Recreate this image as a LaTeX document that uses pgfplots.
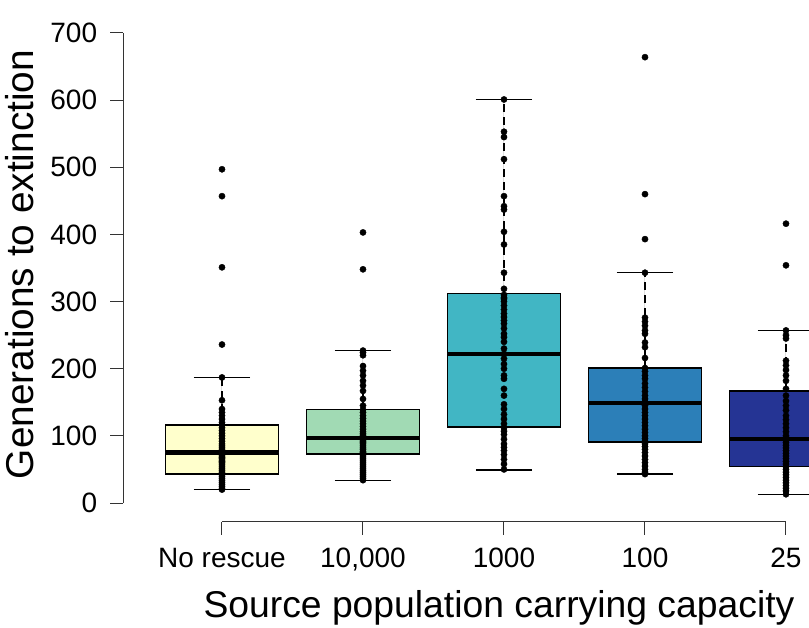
\documentclass[border=0pt]{standalone}
\usepackage{fontspec}
\setmainfont{Liberation Sans}
\usepackage{pgfplots}
\pgfplotsset{compat=1.18}
\usepgfplotslibrary{statistics}
\definecolor{c1}{HTML}{FFFFCC}
\definecolor{c2}{HTML}{A1DAB4}
\definecolor{c3}{HTML}{41B6C4}
\definecolor{c4}{HTML}{2C7FB8}
\definecolor{c5}{HTML}{253494}
\definecolor{axgray}{HTML}{333333}
\begin{document}
\begin{tikzpicture}
\begin{axis}[
  scale only axis,
  width=761.4pt, height=507.6pt,
  xmin=0.3, xmax=5.7, ymin=-28, ymax=728,
  clip=false,
  axis x line*=bottom, axis y line*=left,
  axis line style={draw=none},
  tick align=outside,
  major tick length=13pt,
  every tick/.style={draw=axgray, line width=1pt},
  xtick={1,2,3,4,5},
  xticklabels={No rescue,{10,000},1000,100,25},
  ytick={0,100,...,700},
  /pgf/number format/assume math mode=true,
  ticklabel style={font=\fontsize{28}{32}\selectfont, inner sep=0pt},
  yticklabel style={anchor=east, xshift=-13pt},
  xticklabel style={anchor=base, yshift=-33pt},
  xlabel={Source population carrying capacity},
  ylabel={Generations to extinction},
  xlabel style={font=\fontsize{37.3}{44}\selectfont, inner sep=0pt, at={(axis description cs:0.4934,-0.1895)}, anchor=base},
  ylabel style={font=\fontsize{38.8}{44}\selectfont, inner sep=0pt, at={(axis description cs:-0.1173,0.507)}, anchor=base},
  boxplot/draw direction=y,
  boxplot/box extend=0.8,
  boxplot/whisker extend=0.4,
  boxplot/every box/.style={draw=black, line width=1.5pt},
  boxplot/every median/.style={draw=black, line width=4.5pt},
  boxplot/draw/lower whisker/.code={%
    \draw[black, line width=1.3pt, dash pattern=on 8pt off 5pt]
      (boxplot cs:\pgfplotsboxplotvalue{lower quartile}) --
      (boxplot cs:\pgfplotsboxplotvalue{lower whisker});
    \draw[black, line width=1.3pt]
      (boxplot whisker cs:\pgfplotsboxplotvalue{lower whisker},0) --
      (boxplot whisker cs:\pgfplotsboxplotvalue{lower whisker},1);
  },
  boxplot/draw/upper whisker/.code={%
    \draw[black, line width=1.3pt, dash pattern=on 8pt off 5pt]
      (boxplot cs:\pgfplotsboxplotvalue{upper quartile}) --
      (boxplot cs:\pgfplotsboxplotvalue{upper whisker});
    \draw[black, line width=1.3pt]
      (boxplot whisker cs:\pgfplotsboxplotvalue{upper whisker},0) --
      (boxplot whisker cs:\pgfplotsboxplotvalue{upper whisker},1);
  },
  pts/.style={only marks, mark=*, mark size=3.1pt, black, mark options={fill=black, draw=black}},
]
% boxes
\addplot[fill=c1, boxplot prepared={draw position=1, lower whisker=20, lower quartile=43, median=75, upper quartile=116, upper whisker=187}] coordinates {};
\addplot[fill=c2, boxplot prepared={draw position=2, lower whisker=34, lower quartile=73, median=97, upper quartile=139, upper whisker=227}] coordinates {};
\addplot[fill=c3, boxplot prepared={draw position=3, lower whisker=49, lower quartile=113, median=222, upper quartile=312, upper whisker=601}] coordinates {};
\addplot[fill=c4, boxplot prepared={draw position=4, lower whisker=43, lower quartile=91, median=149, upper quartile=201, upper whisker=343}] coordinates {};
\addplot[fill=c5, boxplot prepared={draw position=5, lower whisker=13, lower quartile=54, median=95, upper quartile=167, upper whisker=257}] coordinates {};
% points
\addplot[pts] table[row sep=\\] {x y\\
1 497\\ 1 457\\ 1 351\\ 1 236\\ 1 187\\ 1 153\\ 1 140\\ 1 135\\ 1 130\\ 1 125\\ 1 120\\ 1 116\\ 1 112\\ 1 108\\ 1 104\\ 1 100\\ 1 96\\ 1 92\\ 1 88\\ 1 85\\ 1 82\\ 1 79\\ 1 77\\ 1 76\\ 1 75\\ 1 74\\ 1 72\\ 1 70\\ 1 68\\ 1 66\\ 1 64\\ 1 62\\ 1 60\\ 1 58\\ 1 55\\ 1 52\\ 1 49\\ 1 46\\ 1 43\\ 1 40\\ 1 37\\ 1 34\\ 1 31\\ 1 28\\ 1 25\\ 1 22\\ 1 20\\
};
\addplot[pts] table[row sep=\\] {x y\\
2 403\\ 2 348\\ 2 227\\ 2 224\\ 2 220\\ 2 204\\ 2 197\\ 2 190\\ 2 182\\ 2 175\\ 2 167\\ 2 155\\ 2 145\\ 2 139\\ 2 135\\ 2 130\\ 2 126\\ 2 122\\ 2 118\\ 2 114\\ 2 110\\ 2 106\\ 2 103\\ 2 100\\ 2 98\\ 2 96\\ 2 94\\ 2 92\\ 2 90\\ 2 88\\ 2 85\\ 2 82\\ 2 80\\ 2 77\\ 2 75\\ 2 73\\ 2 70\\ 2 67\\ 2 64\\ 2 61\\ 2 58\\ 2 55\\ 2 52\\ 2 49\\ 2 46\\ 2 43\\ 2 40\\ 2 37\\ 2 34\\
};
\addplot[pts] table[row sep=\\] {x y\\
3 601\\ 3 553\\ 3 545\\ 3 512\\ 3 457\\ 3 442\\ 3 437\\ 3 404\\ 3 385\\ 3 343\\ 3 319\\ 3 310\\ 3 306\\ 3 304\\ 3 300\\ 3 294\\ 3 288\\ 3 282\\ 3 277\\ 3 272\\ 3 267\\ 3 260\\ 3 252\\ 3 247\\ 3 240\\ 3 230\\ 3 222\\ 3 215\\ 3 207\\ 3 200\\ 3 190\\ 3 185\\ 3 170\\ 3 160\\ 3 147\\ 3 140\\ 3 132\\ 3 125\\ 3 118\\ 3 112\\ 3 107\\ 3 102\\ 3 95\\ 3 88\\ 3 83\\ 3 78\\ 3 72\\ 3 65\\ 3 58\\ 3 50\\
};
\addplot[pts] table[row sep=\\] {x y\\
4 664\\ 4 460\\ 4 393\\ 4 343\\ 4 276\\ 4 270\\ 4 264\\ 4 257\\ 4 252\\ 4 239\\ 4 232\\ 4 216\\ 4 201\\ 4 196\\ 4 190\\ 4 185\\ 4 178\\ 4 172\\ 4 166\\ 4 160\\ 4 155\\ 4 150\\ 4 148\\ 4 145\\ 4 140\\ 4 135\\ 4 130\\ 4 125\\ 4 120\\ 4 115\\ 4 110\\ 4 105\\ 4 100\\ 4 96\\ 4 92\\ 4 88\\ 4 84\\ 4 80\\ 4 75\\ 4 70\\ 4 65\\ 4 60\\ 4 55\\ 4 50\\ 4 46\\ 4 43\\
};
\addplot[pts] table[row sep=\\] {x y\\
5 416\\ 5 354\\ 5 257\\ 5 250\\ 5 245\\ 5 212\\ 5 205\\ 5 198\\ 5 190\\ 5 182\\ 5 170\\ 5 160\\ 5 152\\ 5 145\\ 5 138\\ 5 130\\ 5 124\\ 5 118\\ 5 112\\ 5 106\\ 5 100\\ 5 96\\ 5 93\\ 5 90\\ 5 86\\ 5 82\\ 5 78\\ 5 74\\ 5 70\\ 5 66\\ 5 62\\ 5 58\\ 5 54\\ 5 50\\ 5 46\\ 5 42\\ 5 38\\ 5 34\\ 5 30\\ 5 26\\ 5 22\\ 5 18\\ 5 13\\
};
% axis lines (R style)
\draw[axgray, line width=1pt] (axis cs:0.3,0) -- (axis cs:0.3,700);
\draw[axgray, line width=1pt] (axis cs:1,-28) -- (axis cs:5,-28);
\end{axis}
\pgfresetboundingbox
\path[use as bounding box] (-123.3pt,-105.2pt) rectangle (685.7pt,521.8pt);
\end{tikzpicture}
\end{document}
